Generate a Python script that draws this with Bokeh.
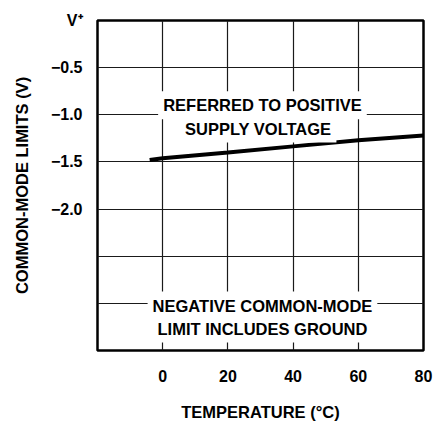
from bokeh.plotting import figure
from bokeh.models import Range1d, FixedTicker, Label
from bokeh.embed import file_html
from bokeh.resources import INLINE

# Data
temps = [-4, 0, 20, 40, 60, 80]
vcm_limit = [-1.48, -1.46, -1.40, -1.335, -1.27, -1.22]

x_ticks = [0, 20, 40, 60, 80]
x_tick_labels = ["0", "20", "40", "60", "80"]
y_ticks = [0, -0.5, -1.0, -1.5, -2.0, -2.5, -3.0]
y_tick_labels = ["V\u207a", "\u22120.5", "\u22121.0", "\u22121.5", "\u22122.0", "", ""]

FONT = "Liberation Sans"

p = figure(width=433, height=425,
           x_range=Range1d(-20, 80), y_range=Range1d(-3.5, 0),
           output_backend="svg", toolbar_location=None,
           min_border_left=97, min_border_right=10,
           min_border_top=20, min_border_bottom=75)

p.background_fill_color = "white"
p.border_fill_color = "white"
p.outline_line_color = "black"
p.outline_line_width = 2.5

p.xaxis.ticker = FixedTicker(ticks=x_ticks)
p.yaxis.ticker = FixedTicker(ticks=y_ticks)
p.xaxis.major_label_overrides = {t: l for t, l in zip(x_ticks, x_tick_labels)}
p.yaxis.major_label_overrides = {t: l for t, l in zip(y_ticks, y_tick_labels)}

for ax in (p.xaxis[0], p.yaxis[0]):
    ax.axis_line_color = None
    ax.major_tick_line_color = None
    ax.minor_tick_line_color = None
    ax.major_tick_out = 0
    ax.major_tick_in = 0
    ax.major_label_text_font = FONT
    ax.major_label_text_font_style = "bold"
    ax.major_label_text_font_size = "16px"
    ax.major_label_text_color = "black"
    ax.axis_label_text_font = FONT
    ax.axis_label_text_font_style = "bold"
    ax.axis_label_text_font_size = "16.5px"
    ax.axis_label_text_color = "black"

p.xaxis.axis_label = "TEMPERATURE (\u00b0C)"
p.yaxis.axis_label = "COMMON-MODE LIMITS (V)"
p.xaxis.major_label_standoff = 19
p.xaxis.axis_label_standoff = 18
p.yaxis.major_label_standoff = 15
p.yaxis.axis_label_standoff = 17

p.xgrid.grid_line_color = "#1a1a1a"
p.ygrid.grid_line_color = "#1a1a1a"
p.xgrid.grid_line_width = 1.2
p.ygrid.grid_line_width = 1.2

p.line(temps, vcm_limit, line_color="black", line_width=4)

labels = [
    ("REFERRED TO POSITIVE", 30.6, -0.90),
    ("SUPPLY VOLTAGE", 29.3, -1.146),
    ("NEGATIVE COMMON-MODE", 30.6, -3.023),
    ("LIMIT INCLUDES GROUND", 30.6, -3.267),
]
for txt, lx, ly in labels:
    p.add_layout(Label(x=lx, y=ly, text=txt, text_align="center", text_baseline="middle",
                       text_font=FONT, text_font_style="bold", text_font_size="16.5px",
                       text_color="black", background_fill_color="white", padding=5))

open("out.html", "w").write(file_html(p, INLINE))
